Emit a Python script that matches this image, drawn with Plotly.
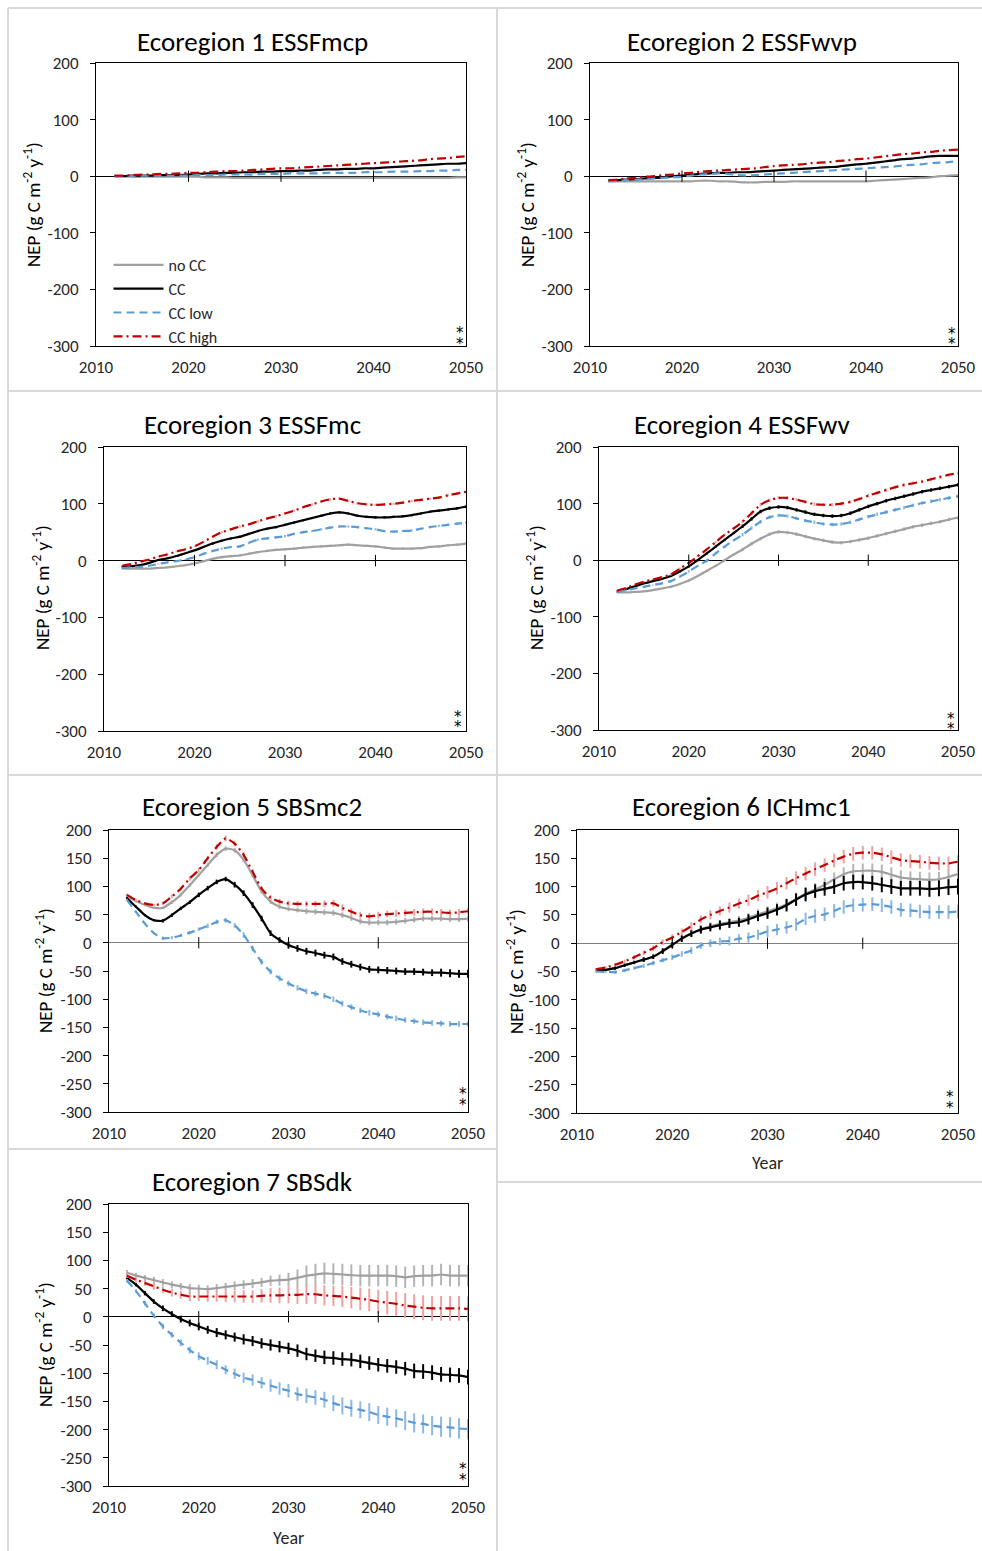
import plotly.graph_objects as go

W, H = 982, 1551
FONT = "Calibri, Carlito, Lato, sans-serif"
STAR_FONT = "DejaVu Sans, sans-serif"

years = list(range(2012, 2051))
scenarios = ["no CC", "CC", "CC low", "CC high"]
titles = ["Ecoregion 1 ESSFmcp", "Ecoregion 2 ESSFwvp", "Ecoregion 3 ESSFmc",
          "Ecoregion 4 ESSFwv", "Ecoregion 5 SBSmc2", "Ecoregion 6 ICHmc1",
          "Ecoregion 7 SBSdk"]
x_ticks = [2010, 2020, 2030, 2040, 2050]
y_ticks_100 = [-300, -200, -100, 0, 100, 200]
y_ticks_50 = [-300, -250, -200, -150, -100, -50, 0, 50, 100, 150, 200]

# ---------------- data (NEP, g C m-2 y-1), 2012..2050 ----------------
p1_nocc = [0,0,-1,-1,-1,-1,-1,-1,-1, -1,-2,-2,-2,-3,-3,-3,-3,-3,-3, -3,-3,-3,-3,-3,-3,-3,-3,-3,-3, -3,-3,-3,-3,-3,-3,-3,-3,-2,-2]
p1_cc = [0,0,1,1,1,2,2,2,3, 4,5,5,6,6,7,7,8,8,9, 9,10,10,11,12,12,13,13,14,14, 15,16,17,18,19,20,21,22,22,23]
p1_low = [0,0,0,1,1,1,1,1,1, 2,2,2,3,3,3,3,4,4,4, 5,5,5,5,6,6,6,6,7,7, 7,8,8,8,9,9,10,10,11,11]
p1_high = [1,1,2,3,3,4,4,5,6, 6,7,8,9,9,10,11,12,13,14, 14,15,16,17,18,19,20,21,22,23, 24,25,26,27,28,30,31,32,34,35]

p2_nocc = [-9,-9,-9,-9,-9,-9,-9,-9,-9, -9,-8,-8,-9,-9,-10,-11,-11,-10,-10, -10,-9,-9,-9,-9,-9,-9,-9,-9,-9, -8,-7,-6,-5,-4,-3,-2,0,1,2]
p2_cc = [-8,-7,-6,-5,-4,-3,-2,0,1, 3,4,5,6,6,7,7,8,9,10, 11,12,13,14,15,16,17,19,21,22, 24,26,28,30,31,33,35,36,36,36]
p2_low = [-9,-8,-7,-6,-5,-4,-3,-2,-1, 1,3,4,5,4,2,1,2,3,4, 5,6,7,8,9,10,11,12,13,14, 15,16,17,19,20,21,23,24,25,27]
p2_high = [-7,-6,-4,-3,-1,0,2,3,5, 6,8,9,10,11,12,13,14,16,18, 19,20,21,23,24,25,27,28,30,31, 33,35,37,39,40,42,43,45,46,47]

p3_nocc = [-14,-14,-14,-14,-13,-12,-10,-8,-5, -1,3,6,8,9,12,15,17,19,20, 21,23,24,25,26,27,28,27,26,25, 23,21,21,21,22,24,25,27,28,30]
p3_cc = [-11,-10,-8,-4,1,4,8,13,18, 24,30,35,39,42,47,52,56,59,63, 67,71,75,79,83,85,83,79,77,76, 76,77,78,80,83,86,88,90,92,95]
p3_low = [-13,-12,-11,-9,-6,-3,-1,2,6, 12,17,21,24,25,31,37,39,41,43, 47,50,52,55,58,60,60,59,57,55, 52,51,52,53,56,59,61,63,65,67]
p3_high = [-9,-6,-2,2,7,11,16,20,25, 33,42,50,55,60,64,69,74,78,83, 88,94,99,104,108,109,105,101,99,98, 99,100,102,105,107,109,111,115,118,121]

p4_nocc = [-57,-57,-56,-55,-53,-50,-47,-42,-36, -28,-19,-10,0,10,19,29,38,46,50, 49,46,42,38,35,32,31,33,36,39, 43,47,51,55,59,62,65,68,72,75]
p4_cc = [-55,-51,-46,-41,-37,-33,-28,-20,-11, 0,12,24,36,48,60,73,86,92,94, 93,89,85,81,79,78,79,83,89,95, 100,105,109,113,117,121,124,127,130,133]
p4_low = [-56,-53,-50,-47,-44,-41,-37,-29,-20, -10,-1,12,24,35,45,57,68,76,79, 78,74,70,67,64,63,64,67,72,77, 81,85,89,93,97,101,104,107,110,113]
p4_high = [-54,-49,-43,-38,-34,-30,-25,-15,-5, 7,19,32,45,56,68,83,98,106,110, 110,107,103,99,98,98,100,103,108,114, 119,124,129,133,136,139,143,147,151,154]

p5_nocc = [82,74,67,62,62,72,85,102,120, 138,156,167,164,147,120,91,73,64,60, 58,56,55,54,53,49,44,38,36,36, 36,37,39,41,43,43,43,42,42,43]
p5_cc = [79,64,49,40,39,49,61,72,85, 97,108,113,103,88,67,43,17,5,-4, -10,-15,-18,-22,-25,-33,-38,-43,-47,-48, -49,-50,-51,-51,-52,-53,-53,-54,-55,-55]
p5_low = [76,55,34,17,8,9,13,18,24, 30,37,40,31,14,-10,-34,-51,-63,-72, -80,-86,-90,-94,-100,-108,-114,-120,-124,-127, -131,-134,-137,-139,-141,-142,-143,-144,-144,-144]
p5_high = [85,76,70,67,70,82,96,114,129, 150,170,185,176,156,126,96,80,73,70, 69,69,69,69,70,62,55,49,47,49, 51,52,53,54,55,55,54,53,54,56]

p6_nocc = [-47,-47,-44,-39,-34,-29,-24,-14,-3, 8,17,25,30,34,37,40,45,51,56, 62,69,78,88,95,103,113,122,127,128, 128,126,121,116,114,113,112,113,117,122]
p6_cc = [-47,-47,-44,-39,-34,-29,-24,-14,-3, 8,17,24,28,32,35,37,42,48,53, 59,67,77,86,92,96,100,106,108,108, 106,103,100,97,97,97,96,97,99,100]
p6_low = [-50,-51,-51,-48,-44,-40,-35,-30,-25, -19,-13,-4,0,3,4,8,10,15,21, 24,28,33,43,48,51,57,64,67,68, 69,67,64,59,58,56,55,55,55,56]
p6_high = [-46,-43,-38,-32,-25,-17,-9,2,10, 20,30,42,50,57,63,70,76,84,90, 97,106,115,123,131,138,146,153,158,160, 160,157,152,147,145,144,142,141,141,144]

p7_nocc = [78,73,69,65,61,57,54,51,50, 49,51,53,55,57,59,61,64,65,66, 69,73,75,77,76,75,74,73,73,73, 73,72,70,72,73,73,75,73,73,73]
p7_cc = [69,57,42,27,15,5,-4,-11,-17, -23,-28,-32,-36,-40,-43,-47,-50,-53,-56, -60,-66,-69,-72,-73,-75,-76,-79,-82,-85, -87,-89,-92,-96,-97,-99,-102,-103,-104,-107]
p7_low = [64,46,24,2,-17,-32,-46,-59,-70, -78,-85,-94,-101,-108,-112,-117,-122,-127,-131, -137,-140,-143,-147,-153,-158,-162,-165,-169,-174, -177,-180,-184,-188,-190,-193,-195,-196,-198,-199]
p7_high = [73,66,60,54,48,43,39,36,36, 36,36,36,36,36,36,37,38,38, 39,39,40,40,38,37,36,34,32,30, 27,25,23,20,18,16,15,15,15,15,14]

# error bars (same units)
e3 = [1,1,1,1,1,1,1,1,1, 2,2,2,2,2,2,2,2,2,2, 2,2,2,2,2,2,2,2,2,2, 2,2,2,2,2,2,2,2,2,2]
e4 = [1,1,1,1,1,1,2,2,2, 2,2,2,2,2,3,3,3,3,3, 3,3,3,3,3,3,3,3,3,3, 3,3,3,3,3,3,3,3,3,3]
e5_nocc = [2,2,2,2,2,3,3,3,3, 3,4,4,4,4,4,4,4,4,4, 4,5,5,5,5,5,5,5,5,5, 5,5,5,5,5,5,5,5,5,5]
e5_cc = [2,2,2,2,3,3,3,3,4, 4,4,4,5,5,5,5,5,5,6, 6,6,6,6,6,6,6,6,6,6, 6,6,6,6,6,6,7,7,7,7]
e5_low = [2,2,2,2,3,3,3,3,3, 4,4,4,4,5,5,5,5,5,5, 5,5,5,5,5,5,5,5,5,5, 5,5,5,5,5,5,5,5,5,5]
e5_high = [2,2,2,2,3,3,3,4,4, 4,5,5,5,5,5,5,5,5,5, 5,5,5,6,6,6,6,6,6,6, 6,6,6,6,6,6,6,6,6,6]
e6_nocc = [2,2,3,3,3,4,4,4,5, 5,6,6,7,7,7,8,8,9,9, 10,10,11,11,11,12,12,12,13,13, 13,13,13,13,13,13,13,13,13,13]
e6_cc = [2,2,3,3,3,4,4,5,5, 6,6,7,7,8,8,8,9,9,10, 10,11,11,12,12,12,13,13,13,13, 13,13,13,13,13,13,14,14,14,14]
e6_low = [2,2,3,3,3,4,4,4,5, 5,6,6,7,7,8,8,9,9,10, 10,11,11,11,12,12,12,12,12,12, 12,12,12,12,12,12,12,12,12,12]
e6_high = [2,2,3,3,4,4,5,5,6, 6,7,7,8,8,9,9,10,10,11, 11,11,12,12,12,12,12,12,12,12, 12,12,12,12,12,12,12,12,12,12]
e7_nocc = [5,5,5,6,6,6,6,7,7, 7,7,7,8,8,8,8,9,10,12, 15,18,19,19,19,19,19,19,19,19, 19,19,19,19,19,19,19,19,19,19]
e7_cc = [3,3,4,4,5,5,6,6,7, 7,8,8,8,9,9,9,10,10,10, 11,11,11,12,12,12,12,12,12,12, 12,12,12,13,13,13,13,13,13,13]
e7_low = [3,3,4,4,5,5,6,6,7, 7,8,8,9,9,10,10,11,11,12, 12,13,13,14,14,15,15,15,16,16, 16,16,17,17,17,17,18,18,18,18]
e7_high = [4,5,5,6,6,7,7,8,8, 9,9,10,10,11,11,12,13,14,15, 16,17,17,18,18,19,19,20,20,21, 21,21,22,22,22,22,22,22,22,22]

panel_values = [
    [p1_nocc, p1_cc, p1_low, p1_high],
    [p2_nocc, p2_cc, p2_low, p2_high],
    [p3_nocc, p3_cc, p3_low, p3_high],
    [p4_nocc, p4_cc, p4_low, p4_high],
    [p5_nocc, p5_cc, p5_low, p5_high],
    [p6_nocc, p6_cc, p6_low, p6_high],
    [p7_nocc, p7_cc, p7_low, p7_high],
]
panel_errors = [
    None, None,
    [e3, e3, e3, e3],
    [e4, e4, e4, e4],
    [e5_nocc, e5_cc, e5_low, e5_high],
    [e6_nocc, e6_cc, e6_low, e6_high],
    [e7_nocc, e7_cc, e7_low, e7_high],
]
for vals in panel_values:
    for v in vals:
        assert len(v) == len(years), len(v)

# ---------------- styling ----------------
line_styles = [
    dict(color="#a0a0a0", width=2.2, dash="solid"),
    dict(color="#000000", width=2.2, dash="solid"),
    dict(color="#5b9bd5", width=2.2, dash="8px,5px"),
    dict(color="#c00000", width=2.2, dash="9px,4px,2px,4px"),
]
err_colors = ["#b4b4b4", "#000000", "#8db8e6", "#f0a0a0"]

# plot-area pixel boxes: (left, top, right, bottom)
boxes = [
    (96, 63, 466, 346),
    (590, 63, 958, 346),
    (104, 447, 466, 731),
    (599, 447, 958, 730),
    (109, 830, 468, 1112),
    (577, 830, 958, 1113),
    (109, 1204, 468, 1486),
]
title_pos = [(252, 41), (742, 41), (252, 424), (742, 424), (252, 807), (741, 807), (252, 1181)]
ytitle_pos = [(32, 205), (526, 205), (41, 588), (535, 588), (44, 971), (515, 972), (44, 1345)]
# asterisk glyph centres: (px left of right edge, px above bottom for top star, for bottom star)
star_pos = [(6, 17, 6), (6, 16, 6), (8, 18, 8), (7, 15, 5), (5, 22, 11), (8, 20, 9), (5, 21, 10)]
yticks_list = [y_ticks_100, y_ticks_100, y_ticks_100, y_ticks_100, y_ticks_50, y_ticks_50, y_ticks_50]
zero_colors = ["#000000", "#000000", "#000000", "#000000", "#808080", "#808080", "#000000"]
year_label_pos = {5: (767, 1163), 6: (288, 1538)}
STAR_SIZE = 15


def px(x):
    return x / W


def py(y):
    return 1 - y / H


fig = go.Figure()
layout_axes = {}
shapes = []
annotations = []

for i, (vals, errs) in enumerate(zip(panel_values, panel_errors)):
    n = i + 1
    xa = "x" if n == 1 else f"x{n}"
    ya = "y" if n == 1 else f"y{n}"
    for k, name in enumerate(scenarios):
        ls = line_styles[k]
        kw = {}
        if errs is not None:
            kw["error_y"] = dict(type="data", array=errs[k], visible=True,
                                 color=err_colors[k], thickness=2, width=0)
        fig.add_trace(go.Scatter(
            x=years, y=vals[k], mode="lines", name=name,
            line=dict(color=ls["color"], width=ls["width"], dash=ls["dash"],
                      shape="spline", smoothing=0.6),
            xaxis=xa, yaxis=ya, showlegend=(i == 0), legendgroup="g",
            **kw))
    l, t, r, b = boxes[i]
    yunits_per_px = 500.0 / (b - t)
    layout_axes["xaxis" if n == 1 else f"xaxis{n}"] = dict(
        domain=[px(l), px(r)], anchor=ya, range=[2010, 2050],
        tickvals=x_ticks, ticks="", showgrid=False, zeroline=False,
        showline=True, linecolor="#000000", linewidth=1, mirror=True,
        tickfont=dict(family=FONT, size=17, color="#262626"),
        ticklabelstandoff=6)
    yt = yticks_list[i]
    layout_axes["yaxis" if n == 1 else f"yaxis{n}"] = dict(
        domain=[py(b), py(t)], anchor=xa, range=[-300, 200],
        tickvals=yt, ticktext=[str(v) for v in yt],
        ticks="outside", ticklen=5, tickcolor="#000000",
        showgrid=False, zeroline=True, zerolinecolor=zero_colors[i],
        zerolinewidth=1, showline=True, linecolor="#000000", linewidth=1,
        mirror=True, tickfont=dict(family=FONT, size=17, color="#262626"),
        ticklabelstandoff=8)
    # cross tick marks on the zero line
    for yr in [2020, 2030, 2040]:
        shapes.append(dict(type="line", xref=xa, yref=ya, x0=yr, x1=yr,
                           y0=-10, y1=10, line=dict(color="#000000", width=1)))
    tx, tyy = title_pos[i]
    annotations.append(dict(text=titles[i], x=px(tx), y=py(tyy), xref="paper",
                            yref="paper", showarrow=False, xanchor="center",
                            yanchor="middle",
                            font=dict(family=FONT, size=27, color="#000000")))
    ax_, ay_ = ytitle_pos[i]
    annotations.append(dict(text="NEP (g C m<sup>-2</sup> y<sup>-1</sup>)",
                            x=px(ax_), y=py(ay_), xref="paper", yref="paper",
                            showarrow=False, textangle=-90, xanchor="center",
                            yanchor="middle",
                            font=dict(family=FONT, size=19, color="#000000")))
    sdx, s_top, s_bot = star_pos[i]
    star_x = 2050 - sdx * 40.0 / (r - l)
    for up in (s_top, s_bot):
        # text box centre sits a little below the asterisk glyph centre
        ystar = -300 + (up - 0.25 * STAR_SIZE) * yunits_per_px
        annotations.append(dict(text="*", x=star_x, y=ystar, xref=xa, yref=ya,
                                showarrow=False, xanchor="center", yanchor="middle",
                                font=dict(family=STAR_FONT, size=STAR_SIZE, color="#000000")))
    if i in year_label_pos:
        yx, yy = year_label_pos[i]
        annotations.append(dict(text="Year", x=px(yx), y=py(yy), xref="paper",
                                yref="paper", showarrow=False, xanchor="center",
                                yanchor="middle",
                                font=dict(family=FONT, size=18, color="#262626")))

# light grey cell borders
border = dict(color="#d9d9d9", width=2)
for (x0, y0, x1, y1) in [
    (8, 8, 982, 8), (8, 391, 982, 391), (8, 775, 982, 775),
    (8, 1149, 497, 1149), (497, 1182, 982, 1182),
    (8, 8, 8, 1551), (497, 8, 497, 1551),
]:
    shapes.append(dict(type="line", xref="paper", yref="paper",
                       x0=px(x0), x1=px(x1), y0=py(y0), y1=py(y1), line=border))

fig.update_layout(
    width=W, height=H, margin=dict(l=0, r=0, t=0, b=0, pad=0, autoexpand=False),
    autosize=False,
    paper_bgcolor="white", plot_bgcolor="white",
    font=dict(family=FONT, color="#000000"),
    shapes=shapes, annotations=annotations,
    legend=dict(x=px(108.5), y=py(248), xanchor="left", yanchor="top",
                bgcolor="rgba(0,0,0,0)", font=dict(family=FONT, size=16, color="#262626"),
                itemwidth=50, tracegroupgap=0, traceorder="normal"),
    **layout_axes,
)

fig.write_html("out.html")
